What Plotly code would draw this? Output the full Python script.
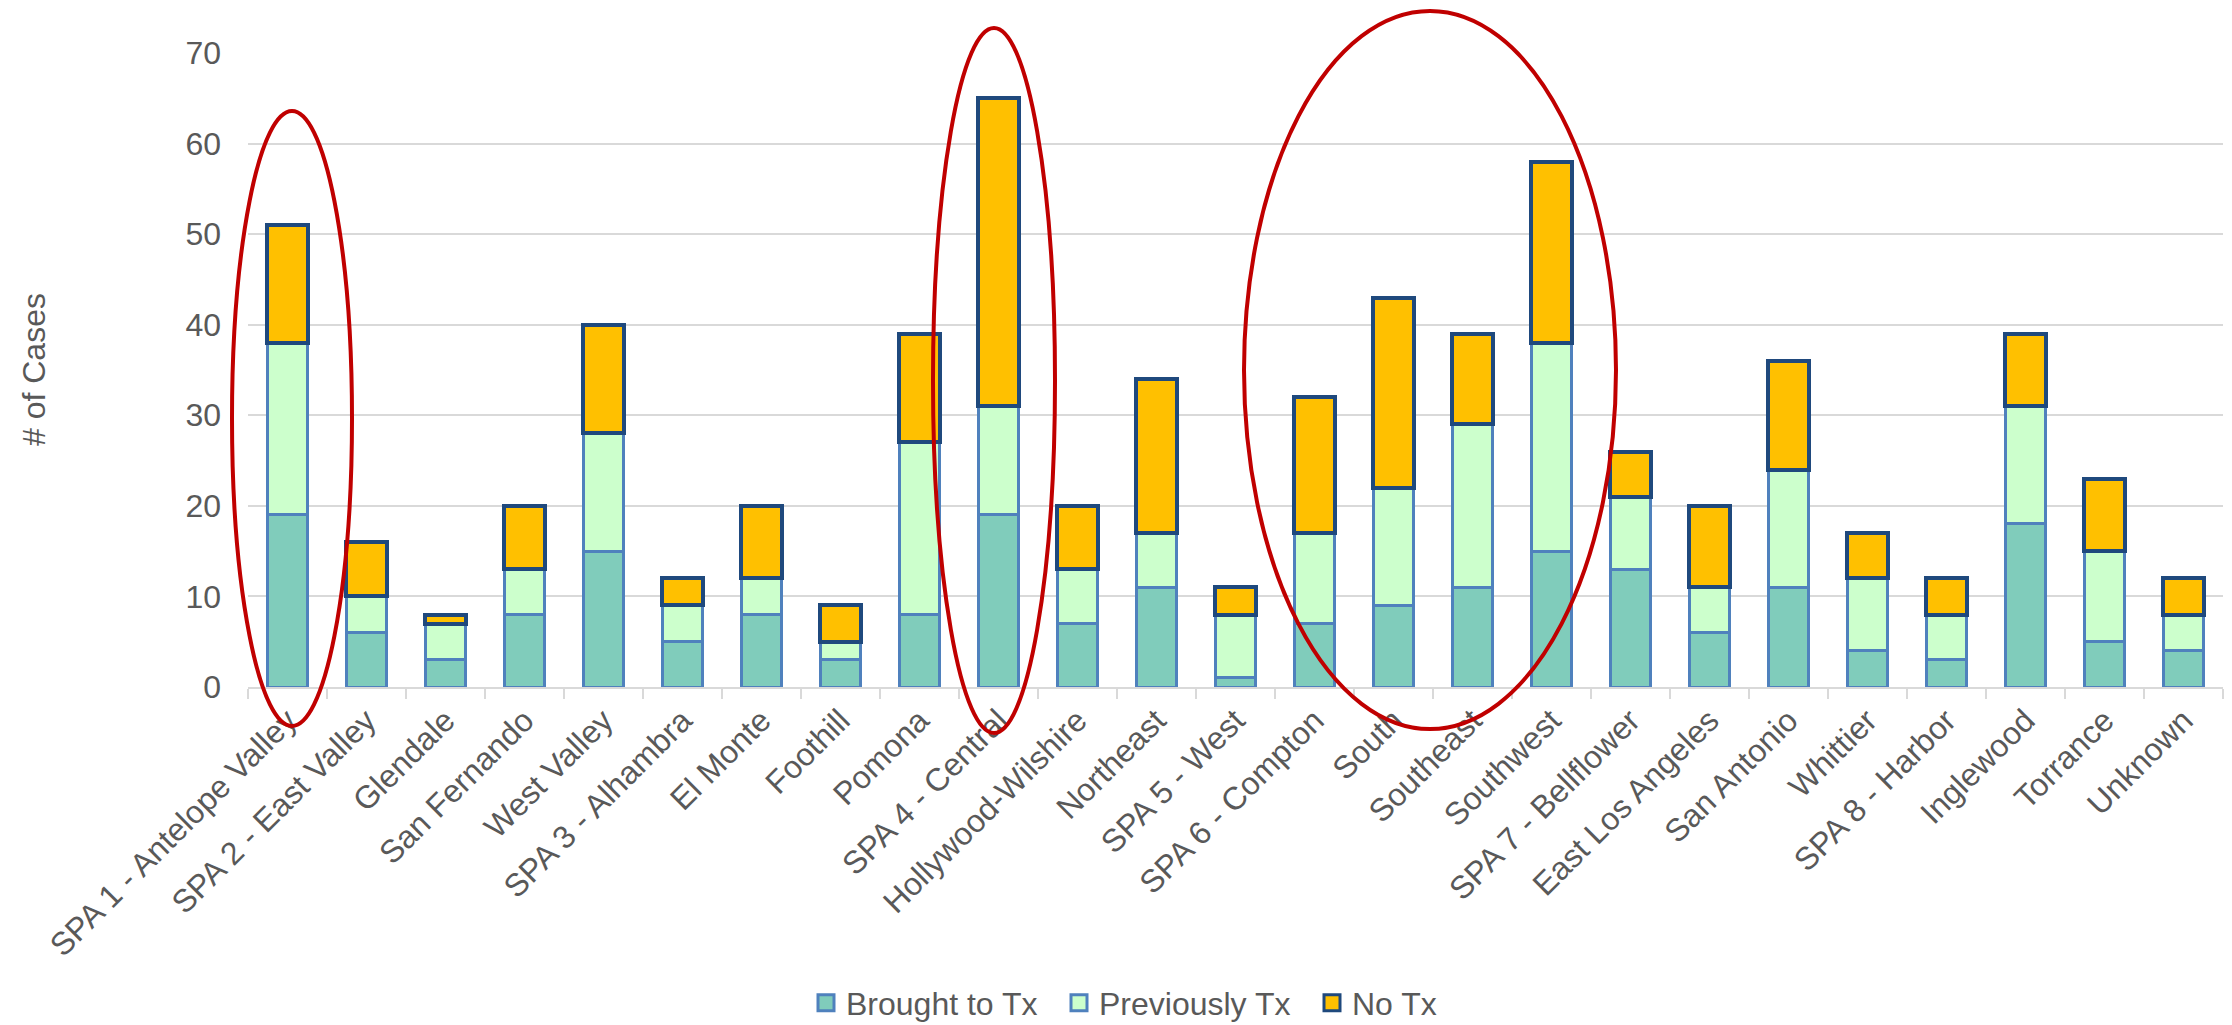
import plotly.graph_objects as go

categories = [
    "SPA 1 - Antelope Valley", "SPA 2 - East Valley", "Glendale", "San Fernando",
    "West Valley", "SPA 3 - Alhambra", "El Monte", "Foothill", "Pomona",
    "SPA 4 - Central", "Hollywood-Wilshire", "Northeast", "SPA 5 - West",
    "SPA 6 - Compton", "South", "Southeast", "Southwest", "SPA 7 - Bellflower",
    "East Los Angeles", "San Antonio", "Whittier", "SPA 8 - Harbor",
    "Inglewood", "Torrance", "Unknown",
]
brought_to_tx = [19, 6, 3, 8, 15, 5, 8, 3, 8, 19, 7, 11, 1, 7, 9, 11, 15, 13, 6, 11, 4, 3, 18, 5, 4]
previously_tx = [19, 4, 4, 5, 13, 4, 4, 2, 19, 12, 6, 6, 7, 10, 13, 18, 23, 8, 5, 13, 8, 5, 13, 10, 4]
no_tx = [13, 6, 1, 7, 12, 3, 8, 4, 12, 34, 7, 17, 3, 15, 21, 10, 20, 5, 9, 12, 5, 4, 8, 8, 4]
y_ticks = [0, 10, 20, 30, 40, 50, 60, 70]

# the page body adds an 8px offset; size the figure so it fits the window
OFF = 8
W, H = 2232 - OFF, 1025 - OFF
ML, MR, MT, MB = 240, 9, 45, 338
PW, PH = W - ML - MR, H - MT - MB

def px(x):  # screenshot pixel -> paper
    return (x - OFF - ML) / PW

def py(y):
    return (H - MB - (y - OFF)) / PH

TEXT = "#595959"
FONT = "Liberation Sans, Arial, sans-serif"

series = [
    ("Brought to Tx", brought_to_tx, "#80CCBB", "#4F81BD", 3),
    ("Previously Tx", previously_tx, "#CCFFCC", "#4F81BD", 3),
    ("No Tx", no_tx, "#FFC000", "#1F497D", 4),
]

fig = go.Figure()
for name, vals, fill, edge, lw in series:
    fig.add_trace(go.Bar(
        name=name, x=categories, y=vals, showlegend=False,
        marker=dict(color=fill, line=dict(color=edge, width=lw)),
    ))
for name, vals, fill, edge, lw in series:
    fig.add_trace(go.Scatter(
        name=name, x=[None], y=[None], mode="markers", showlegend=True,
        marker=dict(symbol="square", size=16, color=fill,
                    line=dict(color=edge, width=3)),
    ))

# red highlight ellipses (screenshot pixel boxes converted to paper coords)
ellipses = [(232, 111, 352, 726), (933, 28, 1055, 733), (1244, 11, 1616, 729)]
for x0, y0, x1, y1 in ellipses:
    fig.add_shape(type="circle", xref="paper", yref="paper",
                  x0=px(x0), x1=px(x1), y0=py(y1), y1=py(y0),
                  line=dict(color="#C00000", width=4), layer="above")

fig.add_annotation(text="# of Cases", xref="paper", yref="paper",
                   x=px(34), y=0.5, xanchor="center", yanchor="middle",
                   textangle=-90, showarrow=False,
                   font=dict(family=FONT, size=32, color=TEXT))

fig.update_layout(
    width=W, height=H,
    barmode="stack", bargap=0.49,
    margin=dict(l=ML, r=MR, t=MT, b=MB, autoexpand=False),
    paper_bgcolor="white", plot_bgcolor="white",
    font=dict(family=FONT, size=32, color=TEXT),
    showlegend=True,
    legend=dict(orientation="h", x=px(806), xanchor="left",
                y=py(1003), yanchor="middle", traceorder="normal",
                entrywidth=208, entrywidthmode="pixels",
                itemwidth=30,
                font=dict(family=FONT, size=32, color=TEXT),
                bgcolor="rgba(0,0,0,0)"),
    xaxis=dict(type="category", tickangle=-45, tickson="boundaries",
               ticks="outside", ticklen=10, tickwidth=2, tickcolor="#D9D9D9",
               showline=True, linecolor="#D9D9D9", linewidth=2,
               showgrid=False, tickfont=dict(family=FONT, size=32, color=TEXT)),
    yaxis=dict(range=[0, 70], tickvals=y_ticks, showgrid=True,
               gridcolor="#D9D9D9", gridwidth=2, zeroline=False,
               showline=False, ticks="", ticklabelstandoff=26,
               tickfont=dict(family=FONT, size=32, color=TEXT)),
)

fig.write_html("out.html")
